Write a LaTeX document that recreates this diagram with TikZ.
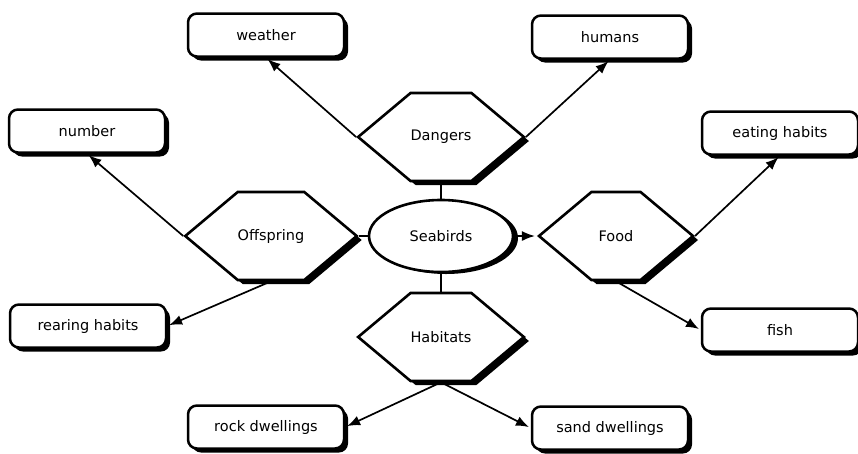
\documentclass[tikz,border=0pt]{standalone}
\usepackage{fontspec}
\setmainfont{DejaVu Sans}
\usetikzlibrary{shapes.symbols,shapes.geometric,shadows,arrows.meta}
\begin{document}
\begin{tikzpicture}[x=1pt,y=-1pt,
  font=\fontsize{14.5}{16}\selectfont,
  topic/.style={signal,signal to=east and west,signal pointer angle=80,draw,
    line width=2.6pt,fill=white,minimum width=154pt,minimum height=88pt,inner sep=0pt,
    drop shadow={shadow xshift=5pt,shadow yshift=-4pt,opacity=1,fill=black}},
  item/.style={rectangle,rounded corners=9pt,draw,line width=2.5pt,fill=white,
    minimum width=156pt,minimum height=43pt,
    drop shadow={shadow xshift=4pt,shadow yshift=-4pt,opacity=1,fill=black}},
  hub/.style={ellipse,draw,line width=2.6pt,fill=white,minimum width=144pt,minimum height=72pt,
    drop shadow={shadow xshift=5pt,shadow yshift=-2pt,opacity=1,fill=black}},
  link/.style={line width=1.7pt},
  arr/.style={line width=1.7pt,-{Latex[length=13pt,width=10pt]},shorten >=2pt}]
\useasboundingbox (0,0) rectangle (858,453);
\node[hub] (seabirds) at (441,236) {Seabirds};
\node[topic] (dangers) at (441,137) {Dangers};
\node[topic] (offspring) at (271,236) {Offspring};
\node[topic] (food) at (616,236) {Food};
\node[topic] (habitats) at (441,337) {Habitats};
\node[item] (weather) at (266,35) {weather};
\node[item] (humans) at (610,37) {humans};
\node[item] (number) at (87,131) {number};
\node[item] (eating) at (780,133) {eating habits};
\node[item] (rearing) at (88,326) {rearing habits};
\node[item] (fish) at (780,330) {fish};
\node[item] (rock) at (266,427) {rock dwellings};
\node[item] (sand) at (610,428) {sand dwellings};
\draw[link] (dangers.south) -- (seabirds.north);
\draw[link] (seabirds.south) -- (habitats.north);
\draw[link] (seabirds.west) -- (offspring.east);
\draw[arr] (seabirds.east) -- (food.west);
\draw[arr] (dangers.west) -- (weather.south);
\draw[arr] (dangers.east) -- (humans.south);
\draw[arr] (offspring.west) -- (number.south);
\draw[arr] (offspring.south) -- (rearing.east);
\draw[arr] (food.east) -- (eating.south);
\draw[arr] (food.south) -- (fish.west);
\draw[arr] (habitats.south) -- (rock.east);
\draw[arr] (habitats.south) -- (sand.west);
\end{tikzpicture}
\end{document}
